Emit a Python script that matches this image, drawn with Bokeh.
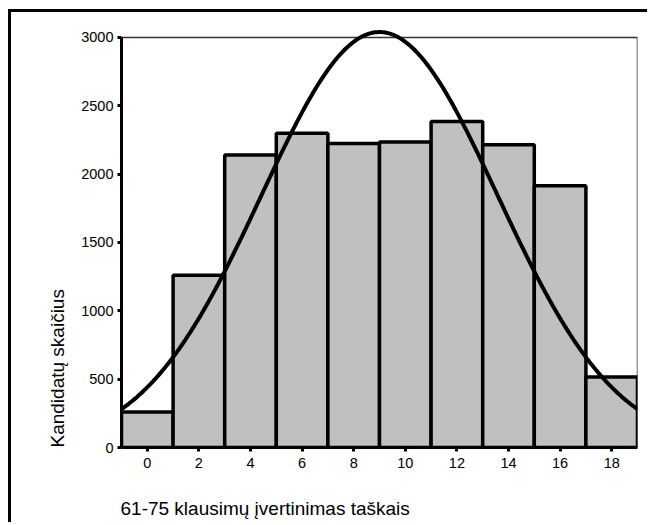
import numpy as np
from bokeh.plotting import figure
from bokeh.models import Range1d, FixedTicker, Title, ColumnDataSource
from bokeh.embed import file_html
from bokeh.resources import INLINE

# ---- data ----
bin_centers = [0, 2, 4, 6, 8, 10, 12, 14, 16, 18]
counts = [260, 1260, 2140, 2300, 2225, 2235, 2385, 2215, 1915, 515]
bin_width = 2
x_ticks = [0, 2, 4, 6, 8, 10, 12, 14, 16, 18]
y_ticks = [0, 500, 1000, 1500, 2000, 2500, 3000]
fit_mean = 9.0
fit_sd = 4.58
x_label = "61-75 klausimų įvertinimas taškais"
y_label = "Kandidatų skaičius"

FONT = "Liberation Sans"
x_lo = bin_centers[0] - bin_width / 2
x_hi = bin_centers[-1] + bin_width / 2
y_top = y_ticks[-1]

p = figure(width=639, height=513, output_backend="svg", toolbar_location=None,
           x_range=Range1d(x_lo, x_hi), y_range=Range1d(0, 3102.4),
           min_border_left=110, min_border_right=13, min_border_top=11,
           min_border_bottom=78)
p.styles = {"margin-left": "8px", "margin-top": "9px",
            "border-left": "3px solid black", "border-top": "3px solid black"}
p.outline_line_color = None
p.xgrid.visible = False
p.ygrid.visible = False
p.background_fill_color = "white"
p.border_fill_color = "white"

# plot area box (thin top and right edges)
p.segment(x0=[x_lo, x_hi], y0=[y_top, y_top], x1=[x_hi, x_hi], y1=[y_top, 0],
          line_color="#333333", line_width=1.5)

src = ColumnDataSource(dict(
    left=[c - bin_width / 2 for c in bin_centers],
    right=[c + bin_width / 2 for c in bin_centers],
    top=counts,
    bottom=[0] * len(counts),
))
p.quad(left="left", right="right", top="top", bottom="bottom", source=src,
       fill_color="#c0c0c0", line_color="black", line_width=3.5)

# fitted normal curve
n_total = sum(counts)
xs = np.linspace(x_lo, x_hi, 300)
ys = n_total * bin_width / (fit_sd * np.sqrt(2 * np.pi)) * np.exp(-0.5 * ((xs - fit_mean) / fit_sd) ** 2)
p.line(xs, ys, line_color="black", line_width=4)

for ax in (p.xaxis[0], p.yaxis[0]):
    ax.axis_line_width = 3
    ax.axis_line_color = "black"
    ax.major_tick_line_width = 3
    ax.major_tick_line_color = "black"
    ax.major_tick_out = 4
    ax.major_tick_in = 0
    ax.minor_tick_line_color = None
    ax.major_label_text_font = FONT
    ax.major_label_text_font_size = "14.5px"
    ax.major_label_text_color = "black"

p.xaxis.ticker = FixedTicker(ticks=x_ticks)
p.yaxis.ticker = FixedTicker(ticks=y_ticks)
p.yaxis.bounds = (0, y_top)
p.xaxis.major_label_standoff = 6
p.yaxis.major_label_standoff = 4

# blank spacer between the x axis and its caption
spacer = Title(text=" ", text_font=FONT, text_font_size="10px", standoff=7)
p.add_layout(spacer, "below")
xt = Title(text=x_label, align="left", text_font=FONT, text_font_size="19px",
           text_font_style="normal", text_color="black", standoff=10, offset=-1)
p.add_layout(xt, "below")
yt = Title(text=y_label, align="left", text_font=FONT, text_font_size="19px",
           text_font_style="normal", text_color="black", standoff=21)
p.add_layout(yt, "left")

open("out.html", "w").write(file_html(p, INLINE))
